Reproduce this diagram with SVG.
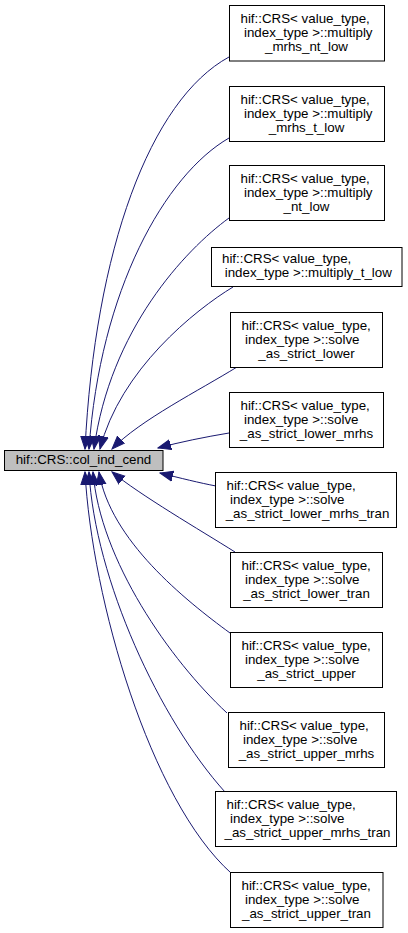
<svg xmlns="http://www.w3.org/2000/svg" width="408" height="933" viewBox="0 0 408 933">
<style>
rect{fill:#fff;stroke:#000;stroke-width:1}
#main rect{fill:#bfbfbf}
text{font-family:"Liberation Sans",Arial,Helvetica,sans-serif;font-size:13.33px;fill:#000}
.c{text-anchor:middle}
.e{fill:none;stroke:#191970;stroke-width:1}
</style>
<defs>
<marker id="ah" markerUnits="userSpaceOnUse" markerWidth="14" markerHeight="12" refX="13" refY="5" orient="auto" viewBox="0 0 14 10">
<path d="M0,0 L13,5 L0,10 z" fill="#191970" stroke="#191970"/>
</marker>
</defs>
<rect x="0" y="0" width="408" height="933" style="fill:#fff;stroke:none"/>
<g id="edges">
<path class="e" marker-end="url(#ah)" d="M229,57 C150,100 95,250 85,449"/>
<path class="e" marker-end="url(#ah)" d="M229,138 C165,175 100,290 89,449"/>
<path class="e" marker-end="url(#ah)" d="M229,218 C185,250 110,330 94,449"/>
<path class="e" marker-end="url(#ah)" d="M233,287 C195,310 120,370 100,449"/>
<path class="e" marker-end="url(#ah)" d="M237,367 C200,390 140,420 112,449"/>
<path class="e" marker-end="url(#ah)" d="M229,433 C205,437 180,442 158,448"/>
<path class="e" marker-end="url(#ah)" d="M216,486 C200,483 180,478 160,473"/>
<path class="e" marker-end="url(#ah)" d="M235,552 C200,530 140,495 112,472"/>
<path class="e" marker-end="url(#ah)" d="M230,633 C185,600 110,540 99,472"/>
<path class="e" marker-end="url(#ah)" d="M227,713 C170,660 100,560 93,472"/>
<path class="e" marker-end="url(#ah)" d="M225,792 C160,720 95,580 89,472"/>
<path class="e" marker-end="url(#ah)" d="M231,873 C150,800 92,600 85,472"/>
</g>
<g id="main">
<rect x="4.5" y="450.5" width="158.5" height="20"/>
<text class="c" x="83.5" y="464">hif::CRS::col_ind_cend</text>
</g>
<g id="n1">
<rect x="229.5" y="5.5" width="155" height="55.5"/>
<text x="240.5" y="22.8">hif::CRS&lt; value_type,</text>
<text x="244" y="37">index_type &gt;::multiply</text>
<text class="c" x="306.5" y="51">_mrhs_nt_low</text>
</g>
<g id="n2">
<rect x="229.5" y="86.5" width="155" height="55"/>
<text x="240.5" y="103.5">hif::CRS&lt; value_type,</text>
<text x="244" y="117.7">index_type &gt;::multiply</text>
<text class="c" x="306.5" y="131.7">_mrhs_t_low</text>
</g>
<g id="n3">
<rect x="229.5" y="165.5" width="155" height="55"/>
<text x="240.5" y="182.5">hif::CRS&lt; value_type,</text>
<text x="244" y="196.7">index_type &gt;::multiply</text>
<text class="c" x="306.5" y="210.7">_nt_low</text>
</g>
<g id="n4">
<rect x="211.5" y="247.5" width="190.5" height="39"/>
<text x="222" y="263.3">hif::CRS&lt; value_type,</text>
<text class="c" x="308.3" y="277.3">index_type &gt;::multiply_t_low</text>
</g>
<g id="n5">
<rect x="230.5" y="312.5" width="152" height="55"/>
<text x="241.5" y="329.5">hif::CRS&lt; value_type,</text>
<text x="245" y="343.7">index_type &gt;::solve</text>
<text class="c" x="306.5" y="357.7">_as_strict_lower</text>
</g>
<g id="n6">
<rect x="229.5" y="392.5" width="154" height="55"/>
<text x="240.5" y="409.5">hif::CRS&lt; value_type,</text>
<text x="244" y="423.7">index_type &gt;::solve</text>
<text class="c" x="306.5" y="437.7">_as_strict_lower_mrhs</text>
</g>
<g id="n7">
<rect x="215.5" y="472.5" width="181" height="55"/>
<text x="226.5" y="489.5">hif::CRS&lt; value_type,</text>
<text x="230" y="503.7">index_type &gt;::solve</text>
<text class="c" x="307.5" y="517.7">_as_strict_lower_mrhs_tran</text>
</g>
<g id="n8">
<rect x="230.5" y="552.5" width="152" height="55"/>
<text x="241.5" y="569.5">hif::CRS&lt; value_type,</text>
<text x="245" y="583.7">index_type &gt;::solve</text>
<text class="c" x="306.5" y="597.7">_as_strict_lower_tran</text>
</g>
<g id="n9">
<rect x="230.5" y="632.5" width="152" height="55"/>
<text x="241.5" y="649.5">hif::CRS&lt; value_type,</text>
<text x="245" y="663.7">index_type &gt;::solve</text>
<text class="c" x="306.5" y="677.7">_as_strict_upper</text>
</g>
<g id="n10">
<rect x="228.5" y="712.5" width="156" height="55"/>
<text x="239.5" y="729.5">hif::CRS&lt; value_type,</text>
<text x="243" y="743.7">index_type &gt;::solve</text>
<text class="c" x="306.5" y="757.7">_as_strict_upper_mrhs</text>
</g>
<g id="n11">
<rect x="215.5" y="791.5" width="181" height="55"/>
<text x="226.5" y="808.5">hif::CRS&lt; value_type,</text>
<text x="230" y="822.7">index_type &gt;::solve</text>
<text class="c" x="307.5" y="836.7">_as_strict_upper_mrhs_tran</text>
</g>
<g id="n12">
<rect x="230.5" y="872.5" width="152.5" height="55"/>
<text x="241.5" y="889.5">hif::CRS&lt; value_type,</text>
<text x="245" y="903.7">index_type &gt;::solve</text>
<text class="c" x="306.5" y="917.7">_as_strict_upper_tran</text>
</g>
</svg>
